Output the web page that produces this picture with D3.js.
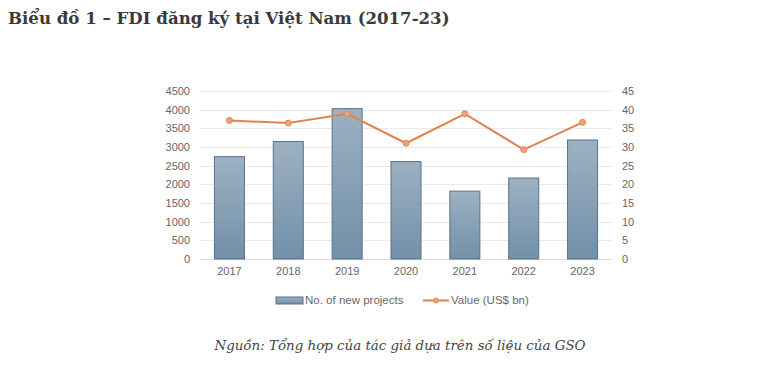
<!DOCTYPE html>
<html>
<head>
<meta charset="utf-8">
<script src="https://cdn.jsdelivr.net/npm/d3@7"></script>
<style>
  body { margin: 0; background: #fff; }
  svg { display: block; }
</style>
</head>
<body>
<div class="chart"></div>
<script>
  // data
  const years = ["2017", "2018", "2019", "2020", "2021", "2022", "2023"];
  const projects = [2741, 3147, 4028, 2610, 1818, 2169, 3188];
  const valueBn = [37.1, 36.4, 38.9, 31.0, 38.9, 29.3, 36.6];
  const leftTicks = [0, 500, 1000, 1500, 2000, 2500, 3000, 3500, 4000, 4500];
  const rightTicks = [0, 5, 10, 15, 20, 25, 30, 35, 40, 45];

  const width = 768;
  const height = 371;

  const svg = d3.select('.chart')
    .append("svg")
    .attr("width", width)
    .attr("height", height);

  const defs = svg.append("defs");
  const grad = defs.append("linearGradient")
    .attr("id", "barGrad")
    .attr("x1", 0).attr("y1", 0).attr("x2", 0).attr("y2", 1);
  grad.append("stop").attr("offset", "0%").attr("stop-color", "#9db1c2");
  grad.append("stop").attr("offset", "100%").attr("stop-color", "#7290a8");

  // title
  svg.append("text")
    .attr("x", 8)
    .attr("y", 24)
    .attr("font-family", "'DejaVu Serif', serif")
    .attr("font-weight", "bold")
    .attr("font-size", "16.6px")
    .attr("fill", "#3a3a3a")
    .text("Biểu đồ 1 – FDI đăng ký tại Việt Nam (2017-23)");

  const plotLeft = 200, plotRight = 612, plotTop = 91, plotBottom = 259;

  const x = d3.scaleBand()
    .domain(years)
    .range([plotLeft, plotRight])
    .paddingInner(0.49)
    .paddingOuter(0.245);

  const y = d3.scaleLinear()
    .domain([0, 4500])
    .range([plotBottom, plotTop]);

  const y2 = d3.scaleLinear()
    .domain([0, 45])
    .range([plotBottom, plotTop]);

  // gridlines
  svg.append("g")
    .selectAll("line")
    .data(leftTicks)
    .enter()
    .append("line")
    .attr("x1", plotLeft)
    .attr("x2", plotRight)
    .attr("y1", d => Math.round(y(d)) + 0.5)
    .attr("y2", d => Math.round(y(d)) + 0.5)
    .attr("stroke", d => d === 0 ? "#d9dde1" : "#e8ebee")
    .attr("stroke-width", 1);

  // left axis
  const leftAxis = svg.append("g")
    .attr("transform", `translate(${plotLeft - 10},0)`)
    .call(d3.axisLeft(y).tickValues(leftTicks).tickFormat(d3.format("d")).tickSize(0).tickPadding(0));
  leftAxis.select(".domain").remove();

  // right axis
  const rightAxis = svg.append("g")
    .attr("transform", `translate(${plotRight + 10},0)`)
    .call(d3.axisRight(y2).tickValues(rightTicks).tickFormat(d3.format("d")).tickSize(0).tickPadding(0));
  rightAxis.select(".domain").remove();

  // bottom axis
  const bottomAxis = svg.append("g")
    .attr("transform", `translate(0,${plotBottom + 8})`)
    .call(d3.axisBottom(x).tickSize(0).tickPadding(0));
  bottomAxis.select(".domain").remove();

  svg.selectAll(".tick text")
    .attr("font-family", "'Liberation Sans', Arial, sans-serif")
    .attr("font-size", "11px")
    .attr("fill", "#666");

  // bars
  svg.selectAll(".bar")
    .data(years)
    .enter()
    .append("rect")
    .attr("class", "bar")
    .attr("x", d => x(d))
    .attr("y", (d, i) => y(projects[i]))
    .attr("width", x.bandwidth())
    .attr("height", (d, i) => plotBottom - y(projects[i]))
    .attr("fill", "url(#barGrad)")
    .attr("stroke", "#56738c")
    .attr("stroke-width", 1);

  // line
  const line = d3.line()
    .x((d, i) => x(years[i]) + x.bandwidth() / 2)
    .y(d => y2(d));

  svg.append("path")
    .datum(valueBn)
    .attr("d", line)
    .attr("fill", "none")
    .attr("stroke", "#e2834f")
    .attr("stroke-width", 2);

  svg.selectAll(".dot")
    .data(valueBn)
    .enter()
    .append("circle")
    .attr("class", "dot")
    .attr("cx", (d, i) => x(years[i]) + x.bandwidth() / 2)
    .attr("cy", d => y2(d))
    .attr("r", 3)
    .attr("fill", "#f0a27a")
    .attr("stroke", "#e2834f")
    .attr("stroke-width", 1);

  // legend
  const legend = svg.append("g");
  legend.append("rect")
    .attr("x", 276).attr("y", 297)
    .attr("width", 27).attr("height", 7)
    .attr("fill", "url(#barGrad)")
    .attr("stroke", "#56738c");
  legend.append("text")
    .attr("x", 305).attr("y", 304)
    .attr("font-family", "'Liberation Sans', Arial, sans-serif")
    .attr("font-size", "11.5px")
    .attr("fill", "#666")
    .text("No. of new projects");
  legend.append("line")
    .attr("x1", 423).attr("x2", 449)
    .attr("y1", 300.5).attr("y2", 300.5)
    .attr("stroke", "#e2834f")
    .attr("stroke-width", 2);
  legend.append("circle")
    .attr("cx", 436).attr("cy", 300.5).attr("r", 2.5)
    .attr("fill", "#f0a27a")
    .attr("stroke", "#e2834f");
  legend.append("text")
    .attr("x", 451).attr("y", 304)
    .attr("font-family", "'Liberation Sans', Arial, sans-serif")
    .attr("font-size", "11.5px")
    .attr("fill", "#666")
    .text("Value (US$ bn)");

  // source
  svg.append("text")
    .attr("x", 400)
    .attr("y", 350)
    .attr("text-anchor", "middle")
    .attr("font-family", "'DejaVu Serif', serif")
    .attr("font-style", "italic")
    .attr("font-size", "13.4px")
    .attr("fill", "#444")
    .text("Nguồn: Tổng hợp của tác giả dựa trên số liệu của GSO");
</script>
</body>
</html>
